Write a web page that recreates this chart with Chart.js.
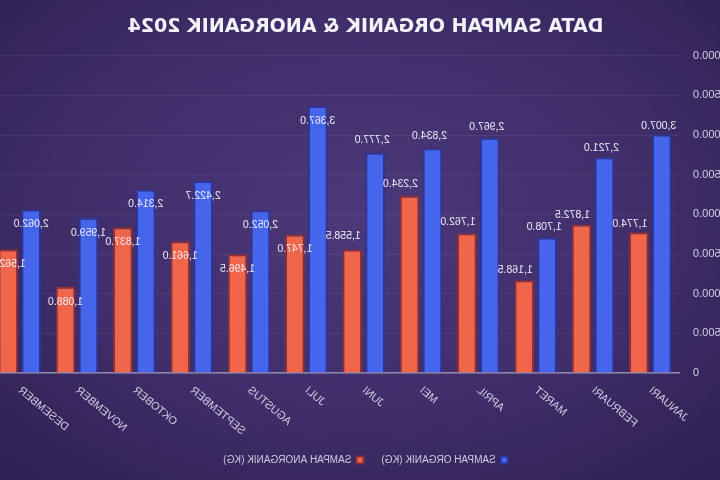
<!DOCTYPE html>
<html><head><meta charset="utf-8">
<script src="https://cdn.jsdelivr.net/npm/chart.js@4.4.1/dist/chart.umd.min.js"></script>
<style>
html,body{margin:0;padding:0;width:720px;height:480px;overflow:hidden;background:#35275e;}
#wrap{position:relative;width:720px;height:480px;overflow:hidden;transform:scaleX(-1);
background: radial-gradient(ellipse 75% 75% at 50% 45%, #4b3979 0%, #3f2e6a 55%, #2d1f4f 100%);}
#c{position:absolute;left:-20px;top:0;width:750px;height:480px;}
</style></head><body>
<div id="wrap"><canvas id="c" width="750" height="480"></canvas></div>
<script>
const months = ["JANUARI","FEBRUARI","MARET","APRIL","MEI","JUNI","JULI","AGUSTUS","SEPTEMBER","OKTOBER","NOVEMBER","DESEMBER"];
const organik = [3007.0, 2721.0, 1708.0, 2967.0, 2834.0, 2777.0, 3367.0, 2052.0, 2422.7, 2314.0, 1959.0, 2062.0];
const anorganik = [1774.0, 1872.5, 1168.5, 1762.0, 2234.0, 1558.5, 1747.0, 1496.5, 1661.0, 1837.0, 1088.0, 1562.0];
const seriesNames = ["SAMPAH ORGANIK (KG)", "SAMPAH ANORGANIK (KG)"];
const titleText = "DATA SAMPAH ORGANIK & ANORGANIK 2024";

const fmt = v => v.toLocaleString('en-US',{minimumFractionDigits:1,maximumFractionDigits:1});

const valueLabels = {
  id:'valueLabels',
  afterDatasetsDraw(chart){
    const ctx = chart.ctx;
    ctx.save();
    ctx.font = '10.5px "Liberation Sans", Arial, sans-serif';
    ctx.fillStyle = '#efecf8';
    ctx.textAlign = 'center';
    ctx.textBaseline = 'middle';
    chart.data.datasets.forEach((ds, di) => {
      chart.getDatasetMeta(di).data.forEach((bar, i) => {
        const above = i < 6;
        const dy = above ? -(8 + i) : 15;
        const dx = above ? (di === 1 ? 9 : 3) : 0;
        ctx.fillText(fmt(ds.data[i]), bar.x + dx, bar.y + dy);
      });
    });
    ctx.restore();
  }
};

new Chart(document.getElementById('c'), {
  type: 'bar',
  data: {
    labels: months,
    datasets: [
      {label: seriesNames[0], data: organik, backgroundColor: '#4565ec', borderColor: '#2f3598', borderWidth: 2, borderSkipped: 'bottom'},
      {label: seriesNames[1], data: anorganik, backgroundColor: '#f0664a', borderColor: '#8c2f3a', borderWidth: 2, borderSkipped: 'bottom'}
    ]
  },
  options: {
    responsive: false,
    animation: false,
    layout: {padding: {left: 0, right: 1, top: 0, bottom: 5}},
    datasets: {bar: {categoryPercentage: 0.8, barPercentage: 0.86}},
    plugins: {
      title: {display: true, text: titleText, color: '#f4f2fa',
        font: {family: '"DejaVu Sans", sans-serif', size: 19, weight: 'bold'},
        padding: {top: 16, bottom: 17}},
      legend: {position: 'bottom',
        labels: {color: '#cfc9e0', boxWidth: 7, boxHeight: 7, padding: 18,
          font: {family: '"Liberation Sans", Arial, sans-serif', size: 10}}},
      tooltip: {enabled: false}
    },
    scales: {
      x: {
        grid: {display: false},
        border: {color: '#9088ad', width: 1.5},
        ticks: {color: '#d3cde3', maxRotation: 40, minRotation: 40, padding: 3,
          font: {family: '"Liberation Sans", Arial, sans-serif', size: 11}},
        afterFit(s){ s.height = 64; }
      },
      y: {
        min: 0, max: 4000,
        grid: {color: 'rgba(255,255,255,0.07)', drawTicks: false},
        border: {display: false},
        ticks: {stepSize: 500, padding: 14, color: '#d3cde3',
          font: {family: '"Liberation Sans", Arial, sans-serif', size: 11},
          callback: v => v === 0 ? '0' : fmt(v)},
        afterFit(s){ s.width = 61; }
      }
    }
  },
  plugins: [valueLabels]
});
</script>
</body></html>
